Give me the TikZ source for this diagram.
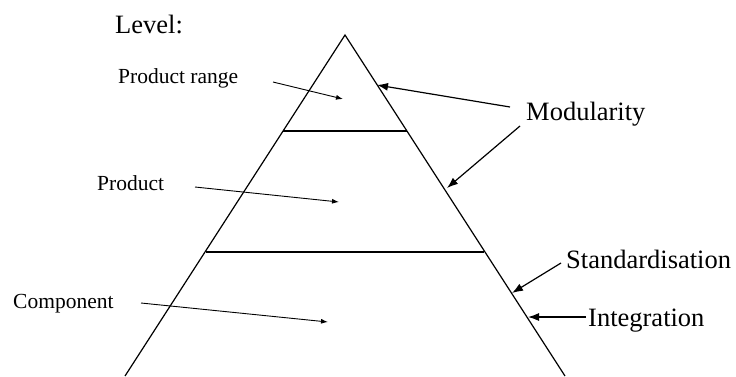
\documentclass[tikz,border=0pt]{standalone}
\usepackage{fontspec}
\setmainfont{Liberation Serif}
\usetikzlibrary{arrows.meta}
\begin{document}
\begin{tikzpicture}[x=1pt,y=-1pt,
  lbl/.style={anchor=base west,inner sep=0pt,font=\fontsize{21.5}{24}\selectfont},
  big/.style={anchor=base west,inner sep=0pt,font=\fontsize{26.5}{30}\selectfont},
  edge/.style={line width=1.2pt},
  thinarrow/.style={line width=0.9pt,-{Latex[length=7pt,width=5pt]}},
  bigarrow/.style={line width=1.2pt,-{Latex[length=11pt,width=8pt]}}]
\useasboundingbox (0,0) rectangle (736,376);
% pyramid
\coordinate (apex) at (345,35);
\coordinate (bl) at (125,376);
\coordinate (br) at (565,376);
\coordinate (l1) at (283,131);
\coordinate (r1) at (407,131);
\coordinate (l2) at (206,252);
\coordinate (r2) at (484,252);
\draw[edge] (bl) -- (apex) -- (br);
\draw[edge] (l1) -- (r1);
\draw[edge] (l2) -- (r2);
% labels
\node[big] (level) at (115,33) {Level:};
\node[lbl] (prange) at (118,83) {Product range};
\node[lbl] (prod) at (97,190) {Product};
\node[lbl] (comp) at (13,308) {Component};
\node[big] (mod) at (526,120) {Modularity};
\node[big] (std) at (566,268) {Standardisation};
\node[big] (integ) at (588,326) {Integration};
% arrow ends
\coordinate (a1s) at (273,82);  \coordinate (a1e) at (343,99);
\coordinate (a2s) at (195,187); \coordinate (a2e) at (339,202);
\coordinate (a3s) at (141,303); \coordinate (a3e) at (328,322);
\coordinate (m1s) at (510,107); \coordinate (m1e) at (377,85);
\coordinate (m2s) at (520,126); \coordinate (m2e) at (447,188);
\coordinate (s1s) at (561,263); \coordinate (s1e) at (512,293);
\coordinate (i1s) at (586,317); \coordinate (i1e) at (528,317);
\draw[thinarrow] (a1s) -- (a1e);
\draw[thinarrow] (a2s) -- (a2e);
\draw[thinarrow] (a3s) -- (a3e);
\draw[bigarrow] (m1s) -- (m1e);
\draw[bigarrow] (m2s) -- (m2e);
\draw[bigarrow] (s1s) -- (s1e);
\draw[bigarrow] (i1s) -- (i1e);
\end{tikzpicture}
\end{document}
